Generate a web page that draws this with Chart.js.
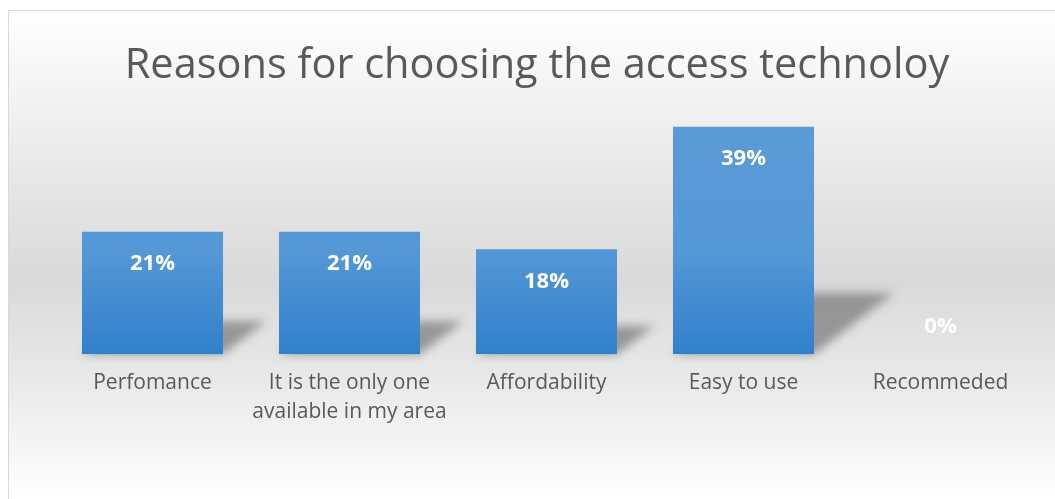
<!DOCTYPE html>
<html>
<head>
<meta charset="utf-8">
<script src="https://cdn.jsdelivr.net/npm/chart.js@4/dist/chart.umd.min.js"></script>
<style>
  html, body { margin: 0; padding: 0; background: #ffffff; }
  #wrap { width: 1055px; height: 499px; position: relative; }
</style>
</head>
<body>
<div id="wrap"><canvas id="c" width="1055" height="499"></canvas></div>
<script>
// Survey results: share of respondents per reason
const categories = [
  'Perfomance',
  ['It is the only one', 'available in my area'],
  'Affordability',
  'Easy to use',
  'Recommeded'
];
const shares = [21, 21, 18, 39, 0];
const chartTitle = 'Reasons for choosing the access technoloy';

// Panel background with a soft vertical sheen and a thin frame
const panelBackground = {
  id: 'panelBackground',
  beforeDraw(chart) {
    const { ctx, width, height } = chart;
    ctx.save();
    const g = ctx.createLinearGradient(0, 10, 0, height);
    g.addColorStop(0, '#ffffff');
    g.addColorStop(0.2, '#f1f1f1');
    g.addColorStop(0.55, '#d9d9d9');
    g.addColorStop(0.78, '#ebebeb');
    g.addColorStop(1, '#ffffff');
    ctx.fillStyle = g;
    ctx.fillRect(8, 10, width - 8, height - 10);
    ctx.strokeStyle = '#d9d9d9';
    ctx.lineWidth = 1;
    ctx.beginPath();
    ctx.moveTo(8.5, height + 2);
    ctx.lineTo(8.5, 10.5);
    ctx.lineTo(width + 2, 10.5);
    ctx.stroke();
    ctx.restore();
  }
};

// Title centred on the whole panel rather than the plot area
const panelTitle = {
  id: 'panelTitle',
  afterDraw(chart, args, opts) {
    const { ctx } = chart;
    ctx.save();
    ctx.font = '41.5px "Open Sans"';
    ctx.fillStyle = '#595959';
    ctx.textAlign = 'center';
    ctx.textBaseline = 'middle';
    ctx.fillText(opts.text, 537, 66);
    ctx.restore();
  }
};

// Perspective shadow cast behind each bar
const barShadows = {
  id: 'barShadows',
  beforeDatasetsDraw(chart) {
    const { ctx } = chart;
    const meta = chart.getDatasetMeta(0);
    ctx.save();
    ctx.filter = 'blur(5px)';
    ctx.fillStyle = 'rgba(90,90,90,0.55)';
    meta.data.forEach((bar) => {
      const h = bar.base - bar.y;
      if (h <= 0) return;
      const half = bar.width / 2;
      const left = bar.x - half, right = bar.x + half;
      const rise = h * 0.27, shift = h * 0.35;
      ctx.beginPath();
      ctx.moveTo(left, bar.base);
      ctx.lineTo(right, bar.base);
      ctx.lineTo(right + shift, bar.base - rise);
      ctx.lineTo(left + shift, bar.base - rise);
      ctx.closePath();
      ctx.fill();
    });
    ctx.restore();
  }
};

// Value labels placed just inside the top of each bar
const valueLabels = {
  id: 'valueLabels',
  afterDatasetsDraw(chart) {
    const { ctx } = chart;
    const meta = chart.getDatasetMeta(0);
    const values = chart.data.datasets[0].data;
    ctx.save();
    ctx.font = 'bold 22px "Open Sans"';
    ctx.fillStyle = '#ffffff';
    ctx.textAlign = 'center';
    ctx.textBaseline = 'middle';
    meta.data.forEach((bar, i) => {
      const v = values[i];
      const y = v > 0 ? bar.y + 32 : bar.base - 28;
      ctx.fillText(v + '%', bar.x, y);
    });
    ctx.restore();
  }
};

const ctx = document.getElementById('c').getContext('2d');
new Chart(ctx, {
  type: 'bar',
  data: {
    labels: categories,
    datasets: [{
      data: shares,
      backgroundColor: (c) => {
        const area = c.chart.chartArea;
        if (!area) return '#4a8fd2';
        const g = c.chart.ctx.createLinearGradient(0, area.top, 0, area.bottom);
        g.addColorStop(0, '#5b9bd5');
        g.addColorStop(0.55, '#5598d6');
        g.addColorStop(1, '#3180cc');
        return g;
      },
      borderWidth: 0,
      categoryPercentage: 1,
      barPercentage: 0.716
    }]
  },
  options: {
    responsive: false,
    animation: false,
    devicePixelRatio: 1,
    layout: { padding: { left: 54, right: 16, top: 121, bottom: 58 } },
    plugins: {
      legend: { display: false },
      tooltip: { enabled: false },
      title: { display: false },
      panelTitle: { text: chartTitle }
    },
    scales: {
      x: {
        grid: { display: false, drawTicks: false },
        border: { display: false },
        ticks: {
          color: '#595959',
          font: { family: '"Open Sans"', size: 21, lineHeight: 1.35 },
          padding: 15,
          maxRotation: 0,
          autoSkip: false
        }
      },
      y: {
        display: false,
        min: 0,
        max: 40
      }
    }
  },
  plugins: [panelBackground, panelTitle, barShadows, valueLabels]
});
</script>
</body>
</html>
